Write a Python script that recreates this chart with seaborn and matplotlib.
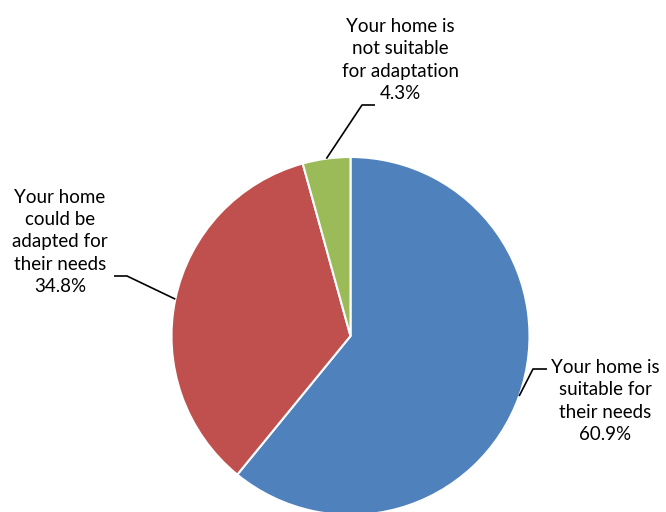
import numpy as np
import matplotlib
matplotlib.use("Agg")
import matplotlib.pyplot as plt
import seaborn as sns

# Survey answers (share of respondents, %)
categories = [
    "Your home is\nsuitable for\ntheir needs",
    "Your home\ncould be\nadapted for\ntheir needs",
    "Your home is\nnot suitable\nfor adaptation",
]
values = [60.9, 34.8, 4.3]
colors = ["#4F81BD", "#C0504D", "#9BBB59"]

sns.set_theme(style="white")
plt.rcParams["font.family"] = ["Lato", "DejaVu Sans"]

W, H = 666, 512
fig = plt.figure(figsize=(W / 100, H / 100), dpi=100)
ax = fig.add_axes([0, 0, 1, 1])

cx, cy, r = 350.5, H - 336, 179
wedges, _ = ax.pie(
    values, colors=colors, startangle=90, counterclock=False,
    center=(cx, cy), radius=r,
    wedgeprops=dict(edgecolor="white", linewidth=1.5),
)
ax.set_xlim(0, W)
ax.set_ylim(0, H)
ax.set_aspect("equal")
ax.axis("off")

# label anchors: elbow point, end of the short horizontal, text centre
label_layout = [
    dict(elbow=(533, H - 369), end=(547, H - 369), text=(605, H - 401)),
    dict(elbow=(127, H - 276), end=(114, H - 276), text=(60, H - 242)),
    dict(elbow=(362, H - 105), end=(375, H - 105), text=(400, H - 60)),
]

for w, cat, val, lay in zip(wedges, categories, values, label_layout):
    mid = np.deg2rad((w.theta1 + w.theta2) / 2)
    sx, sy = cx + r * np.cos(mid), cy + r * np.sin(mid)
    ex, ey = lay["elbow"]
    hx, hy = lay["end"]
    ax.plot([sx, ex, hx], [sy, ey, hy], color="black", lw=1.2,
            solid_capstyle="butt", zorder=5)
    tx, ty = lay["text"]
    ax.text(tx, ty, f"{cat}\n{val:.1f}%", ha="center", va="center",
            fontsize=13.5, color="black", linespacing=1.38)

fig.savefig("out.png", dpi=100)
